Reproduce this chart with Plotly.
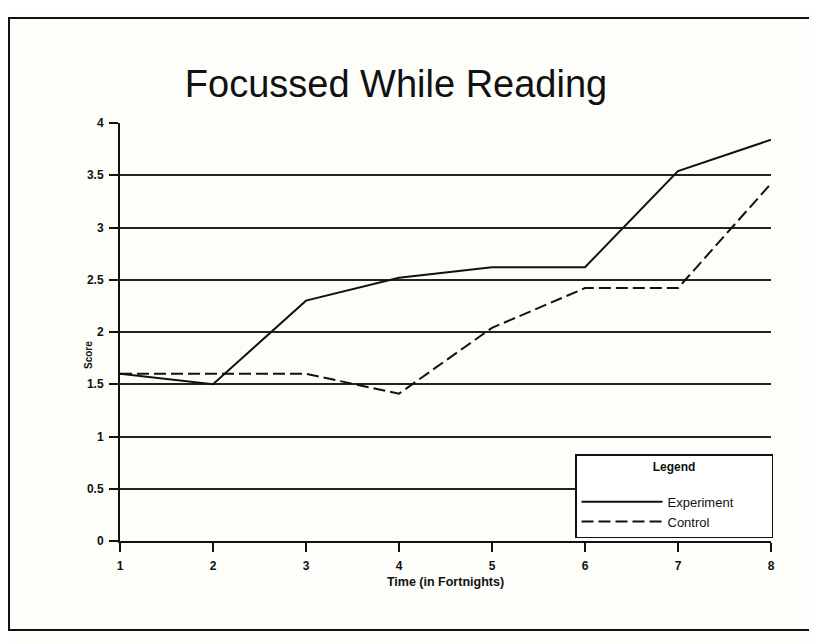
import plotly.graph_objects as go

fortnights = [1, 2, 3, 4, 5, 6, 7, 8]
experiment = [1.6, 1.5, 2.3, 2.52, 2.62, 2.62, 3.54, 3.84]
control = [1.6, 1.6, 1.6, 1.41, 2.04, 2.42, 2.42, 3.42]
y_ticks = [0, 0.5, 1, 1.5, 2, 2.5, 3, 3.5, 4]
y_labels = ["0", "0.5", "1", "1.5", "2", "2.5", "3", "3.5", "4"]

# page is offset by the 8px body margin, so figure is 8px smaller
W, H = 809, 636
L, R, T, B = 112, 46, 115, 103
pw, ph = W - L - R, H - T - B

def px(x):
    return (x - L) / pw

def py(y):
    return 1 - (y - T) / ph

PAD = "&nbsp;" * 9

fig = go.Figure()
fig.add_trace(go.Scatter(x=fortnights, y=experiment, mode="lines", name="Experiment" + PAD,
                         line=dict(color="#111111", width=2)))
fig.add_trace(go.Scatter(x=fortnights, y=control, mode="lines", name="Control" + PAD,
                         line=dict(color="#111111", width=2, dash="12px,5px")))

fig.update_layout(
    width=W, height=H,
    margin=dict(l=L, r=R, t=T, b=B),
    paper_bgcolor="#fdfdfa",
    plot_bgcolor="rgba(0,0,0,0)",
    font=dict(family="Arial, Liberation Sans, sans-serif", color="#111111"),
    title=dict(text="Focussed While Reading", x=388 / W, xref="container", xanchor="center",
               y=1 - 76 / H, yanchor="middle", font=dict(size=38, color="#111111")),
    xaxis=dict(range=[1, 8], tickvals=fortnights, ticks="outside", ticklen=9, tickcolor="#111111",
               tickwidth=1.5, ticklabelstandoff=4,
               showgrid=False, zeroline=False, showline=True, linecolor="#111111", linewidth=2,
               tickfont=dict(size=12, weight="bold"),
               title=dict(text="<b>Time (in Fortnights)</b>", font=dict(size=12.5), standoff=5)),
    yaxis=dict(range=[0, 4], tickvals=y_ticks, ticktext=y_labels, ticks="outside", ticklen=9,
               tickwidth=1.5, ticklabelstandoff=3,
               tickcolor="#111111", showgrid=True, gridcolor="#222222", gridwidth=2,
               zeroline=False, showline=True, linecolor="#111111", linewidth=2,
               tickfont=dict(size=12, weight="bold")),
    legend=dict(x=px(567), xanchor="left", y=py(530), yanchor="bottom",
                bgcolor="#ffffff", bordercolor="#111111", borderwidth=1.5,
                font=dict(size=13), itemwidth=81,
                title=dict(text="<b>Legend</b><br> ", side="top center", font=dict(size=12))),
    showlegend=True,
    annotations=[dict(text="<b>Score</b>", xref="paper", yref="paper", x=px(80), y=py(347),
                      xanchor="center", yanchor="middle", textangle=-90, showarrow=False,
                      font=dict(size=10))],
    shapes=[dict(type="rect", xref="paper", yref="paper",
                 x0=px(1), x1=px(804), y0=py(622), y1=py(10),
                 line=dict(color="#111111", width=2), fillcolor="rgba(0,0,0,0)")],
)

fig.write_html("out.html")
